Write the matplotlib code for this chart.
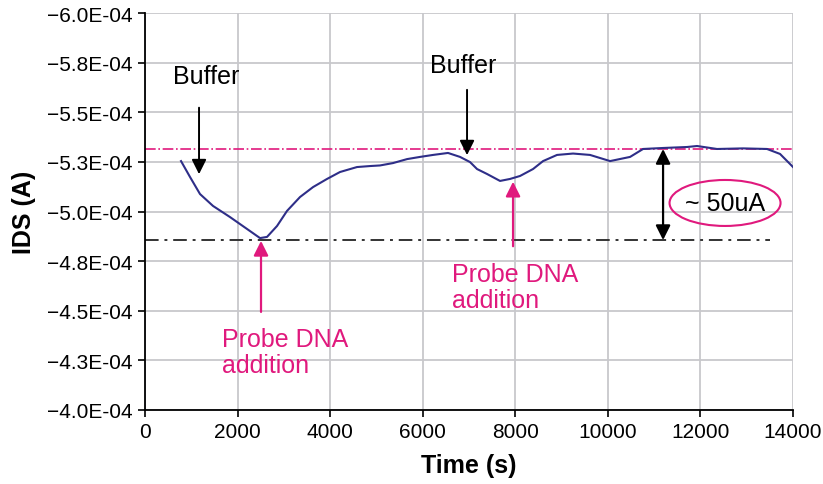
import matplotlib.pyplot as plt
from matplotlib.patches import Ellipse

plt.rcParams['font.family'] = ['Liberation Sans', 'DejaVu Sans']

# IDS trace
time_s = [778, 972, 1188, 1469, 1836, 2204, 2485, 2636, 2852, 3068, 3349, 3630, 3932,
          4213, 4580, 4861, 5077, 5358, 5661, 5941, 6222, 6546, 6806, 7022, 7173,
          7389, 7670, 7886, 8102, 8383, 8599, 8901, 9247, 9614, 10047, 10479, 10760,
          11192, 11710, 11926, 12358, 12920, 13438, 13719, 14000]
ids_a = [-5.254e-4, -5.174e-4, -5.088e-4, -5.028e-4, -4.972e-4, -4.912e-4, -4.866e-4,
         -4.872e-4, -4.927e-4, -5.003e-4, -5.073e-4, -5.123e-4, -5.164e-4,
         -5.199e-4, -5.224e-4, -5.229e-4, -5.232e-4, -5.244e-4, -5.264e-4, -5.275e-4,
         -5.285e-4, -5.295e-4, -5.275e-4, -5.249e-4, -5.214e-4,
         -5.189e-4, -5.154e-4, -5.164e-4, -5.179e-4, -5.214e-4, -5.254e-4, -5.285e-4,
         -5.292e-4, -5.285e-4, -5.254e-4, -5.275e-4, -5.315e-4,
         -5.320e-4, -5.325e-4, -5.330e-4, -5.315e-4, -5.318e-4, -5.315e-4, -5.290e-4,
         -5.224e-4]

# reference levels (~50 uA apart)
level_top = -5.315e-4
level_bottom = -4.856e-4

x_ticks = [0, 2000, 4000, 6000, 8000, 10000, 12000, 14000]
y_ticks = [-6.0e-4, -5.75e-4, -5.5e-4, -5.25e-4, -5.0e-4, -4.75e-4, -4.5e-4, -4.25e-4, -4.0e-4]
y_labels = ["\u22126.0E-04", "\u22125.8E-04", "\u22125.5E-04", "\u22125.3E-04", "\u22125.0E-04",
            "\u22124.8E-04", "\u22124.5E-04", "\u22124.3E-04", "\u22124.0E-04"]

MAG = "#e0197d"

fig = plt.figure(figsize=(8.23, 4.85), dpi=100)
ax = fig.add_axes([0.1762, 0.1526, 0.7874, 0.8185])

ax.set_xlim(0, 14000)
ax.set_ylim(-4.0e-4, -6.0e-4)
ax.set_xticks(x_ticks)
ax.set_yticks(y_ticks)
ax.set_yticklabels(y_labels)
ax.tick_params(labelsize=15, length=5, width=1.2, color="black", pad=4)
ax.grid(True, color="#c8c8cc", linewidth=1.3)
ax.set_axisbelow(True)
for s in ["top", "right"]:
    ax.spines[s].set_visible(False)
for s in ["left", "bottom"]:
    ax.spines[s].set_linewidth(1.3)

ax.axhline(level_top, color=MAG, lw=1.2, ls="-.", xmin=0, xmax=1)
ax.axhline(level_bottom, color="#333333", lw=1.4, ls=(0, (7, 3, 1.5, 3)), xmin=0, xmax=13500 / 14000)

ax.plot(time_s, ids_a, color="#2e2e88", lw=1.5)

arrow_k = dict(arrowstyle="-|>", color="black", lw=1.4, mutation_scale=22)
arrow_m = dict(arrowstyle="-|>", color=MAG, lw=1.6, mutation_scale=22)

ax.annotate("", xy=(1167, -5.174e-4), xytext=(1167, -5.537e-4), arrowprops=arrow_k)
ax.annotate("", xy=(6957, -5.270e-4), xytext=(6957, -5.627e-4), arrowprops=arrow_k)
ax.text(1318, -5.683e-4, "Buffer", fontsize=18, ha="center", va="center")
ax.text(6870, -5.738e-4, "Buffer", fontsize=18, ha="center", va="center")

ax.annotate("", xy=(2506, -4.866e-4), xytext=(2506, -4.48e-4), arrowprops=arrow_m)
ax.annotate("", xy=(7951, -5.164e-4), xytext=(7951, -4.811e-4), arrowprops=arrow_m)
ax.text(1663, -4.292e-4, "Probe DNA\naddition", fontsize=18, color=MAG,
        ha="left", va="center", linespacing=1.15)
ax.text(6633, -4.620e-4, "Probe DNA\naddition", fontsize=18, color=MAG,
        ha="left", va="center", linespacing=1.15)

ax.annotate("", xy=(11192, level_top), xytext=(11192, level_bottom),
            arrowprops=dict(arrowstyle="<|-|>", color="black", lw=1.6, mutation_scale=22,
                            shrinkA=0, shrinkB=0))
ax.add_patch(Ellipse((12531, -5.043e-4), 2398, 0.2317e-4, fill=False, edgecolor=MAG, lw=1.5))
ax.text(12531, -5.043e-4, "~ 50uA", fontsize=18, ha="center", va="center")

ax.set_xlabel("Time (s)", fontsize=18, fontweight="bold", labelpad=8)
ax.set_ylabel("IDS (A)", fontsize=18, fontweight="bold", labelpad=8)

fig.savefig("out.png", dpi=100)
